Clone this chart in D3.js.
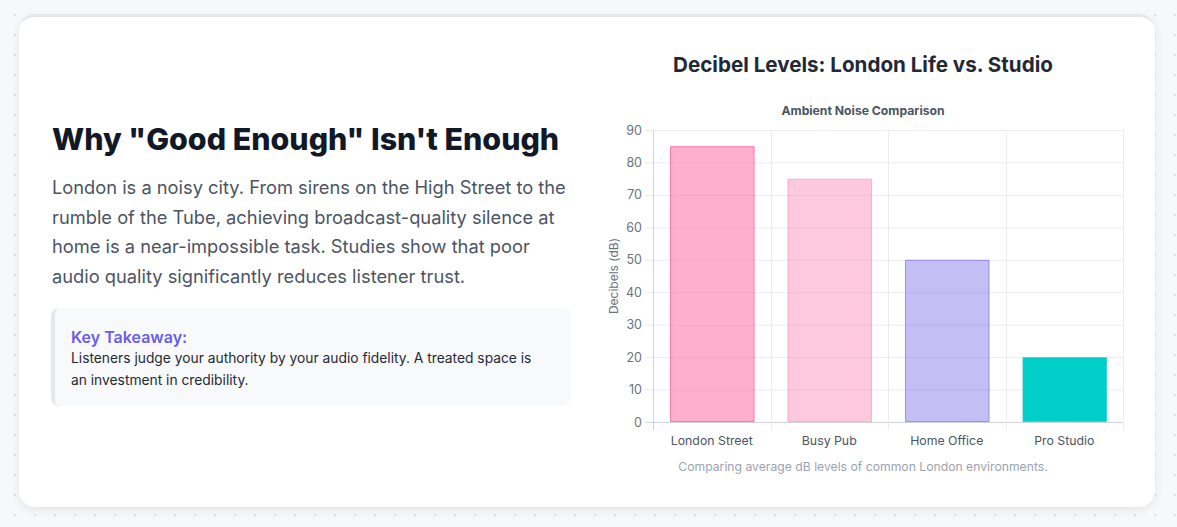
<!DOCTYPE html>
<html>
<head>
  <meta charset="utf-8"/>
  <style>
    html, body {
      margin: 0;
      padding: 0;
    }
    body {
      width: 1177px;
      height: 527px;
      overflow: hidden;
      position: relative;
      font-family: Inter, "Noto Sans", sans-serif;
      background-color: #f7f8fa;
      background-image: radial-gradient(#dcdfe4 1px, transparent 1.2px);
      background-size: 20px 20px;
      background-position: 5px 5px;
    }
    .card {
      position: absolute;
      left: 19px;
      top: 14px;
      width: 1136px;
      height: 490px;
      background: #fff;
      border-top: 3px solid #e5e7eb;
      border-radius: 16px;
      box-shadow: 0 3px 10px rgba(0, 0, 0, 0.08);
    }
    h2 {
      position: absolute;
      left: 52px;
      top: 121px;
      margin: 0;
      font-size: 30.4px;
      line-height: 36px;
      font-weight: 800;
      color: #111827;
      white-space: nowrap;
    }
    p.lead {
      position: absolute;
      left: 52px;
      top: 173px;
      width: 520px;
      margin: 0;
      font-size: 18.3px;
      line-height: 29.5px;
      color: #4b5563;
    }
    .takeaway {
      position: absolute;
      left: 51px;
      top: 308px;
      height: 98px;
      box-sizing: border-box;
      width: 520px;
      background: #f8f9fb;
      border-left: 4px solid #e5e7eb;
      border-radius: 8px;
    }
    .takeaway .k {
      position: absolute;
      left: 16px;
      top: 17px;
      font-size: 16px;
      line-height: 24px;
      font-weight: 600;
      color: #6c5ce7;
    }
    .takeaway .t {
      position: absolute;
      left: 16px;
      top: 39px;
      width: 480px;
      font-size: 13.8px;
      line-height: 22px;
      color: #1f2937;
    }
    svg {
      position: absolute;
      left: 0;
      top: 0;
    }
  </style>
</head>
<body>
  <div class="card"></div>
  <h2>Why "Good Enough" Isn't Enough</h2>
  <p class="lead">London is a noisy city. From sirens on the High Street to the rumble of the Tube, achieving broadcast-quality silence at home is a near-impossible task. Studies show that poor audio quality significantly reduces listener trust.</p>
  <div class="takeaway">
    <div class="k">Key Takeaway:</div>
    <div class="t">Listeners judge your authority by your audio fidelity. A treated space is an investment in credibility.</div>
  </div>
  <div id="chart"></div>
  <script src="https://d3js.org/d3.v7.min.js"></script>
  <script>
    const categories = ['London Street', 'Busy Pub', 'Home Office', 'Pro Studio'];
    const decibels = [85, 75, 50, 20];
    const yTicks = [0, 10, 20, 30, 40, 50, 60, 70, 80, 90];
    const fills = ['rgba(253,121,168,0.6)', 'rgba(253,121,168,0.4)', 'rgba(108,92,231,0.4)', '#00cec9'];
    const strokes = ['#fd79a8', 'rgba(253,121,168,0.5)', 'rgba(108,92,231,0.6)', 'rgba(0,206,201,0.6)'];

    let width = 1177, height = 527;
    let plot = {'left': 653, 'right': 1123, 'top': 130, 'bottom': 422};

    let svg = d3.select('#chart')
        .append('svg')
        .attr('width', width)
        .attr('height', height);

    let x = d3.scaleBand()
        .domain(categories)
        .range([plot.left, plot.right])
        .paddingInner(0)
        .paddingOuter(0);

    let y = d3.scaleLinear()
        .domain([0, 90])
        .range([plot.bottom, plot.top]);

    let cx = 863;

    // headings
    svg.append('text')
        .attr('x', cx)
        .attr('y', 72)
        .attr('text-anchor', 'middle')
        .attr('font-size', 20.6)
        .attr('font-weight', 700)
        .attr('fill', '#1f2937')
        .text('Decibel Levels: London Life vs. Studio');

    svg.append('text')
        .attr('x', cx)
        .attr('y', 115)
        .attr('text-anchor', 'middle')
        .attr('font-size', 12.2)
        .attr('font-weight', 700)
        .attr('fill', '#4b5563')
        .text('Ambient Noise Comparison');

    // horizontal grid + ticks
    svg.append('g')
        .selectAll('line')
        .data(yTicks)
        .join('line')
        .attr('x1', plot.left - 8)
        .attr('x2', plot.right)
        .attr('y1', d => y(d) + 0.5)
        .attr('y2', d => y(d) + 0.5)
        .attr('stroke', d => d === 0 ? '#d1d5db' : '#ebecef')
        .attr('stroke-width', 1);

    // vertical grid (offset between categories)
    let vLines = categories.map(c => x(c)).concat([plot.right]);
    svg.append('g')
        .selectAll('line')
        .data(vLines)
        .join('line')
        .attr('x1', d => Math.round(d) + 0.5)
        .attr('x2', d => Math.round(d) + 0.5)
        .attr('y1', plot.top)
        .attr('y2', plot.bottom + 8)
        .attr('stroke', (d, i) => i === 0 ? '#d1d5db' : '#ebecef')
        .attr('stroke-width', 1);

    // y labels
    svg.append('g')
        .selectAll('text')
        .data(yTicks)
        .join('text')
        .attr('x', plot.left - 11)
        .attr('y', d => y(d) + 4.5)
        .attr('text-anchor', 'end')
        .attr('font-size', 12.5)
        .attr('fill', '#6b7280')
        .text(d => d);

    svg.append('text')
        .attr('transform', 'translate(618,' + (plot.top + plot.bottom) / 2 + ') rotate(-90)')
        .attr('text-anchor', 'middle')
        .attr('font-size', 12)
        .attr('fill', '#6b7280')
        .text('Decibels (dB)');

    // bars
    let barW = x.bandwidth() * 0.72;
    svg.append('g')
        .selectAll('rect')
        .data(decibels)
        .join('rect')
        .attr('x', (d, i) => x(categories[i]) + (x.bandwidth() - barW) / 2 + 1)
        .attr('y', d => y(d) + 0.5)
        .attr('width', barW - 1)
        .attr('height', d => y(0) - y(d) - 1)
        .attr('fill', (d, i) => fills[i])
        .attr('stroke', (d, i) => strokes[i])
        .attr('stroke-width', 1);

    // x labels
    svg.append('g')
        .selectAll('text')
        .data(categories)
        .join('text')
        .attr('x', d => x(d) + x.bandwidth() / 2)
        .attr('y', 445)
        .attr('text-anchor', 'middle')
        .attr('font-size', 12.3)
        .attr('fill', '#4b5563')
        .text(d => d);

    svg.append('text')
        .attr('x', cx)
        .attr('y', 471)
        .attr('text-anchor', 'middle')
        .attr('font-size', 12.2)
        .attr('fill', '#9ca3af')
        .text('Comparing average dB levels of common London environments.');
  </script>
</body>
</html>
